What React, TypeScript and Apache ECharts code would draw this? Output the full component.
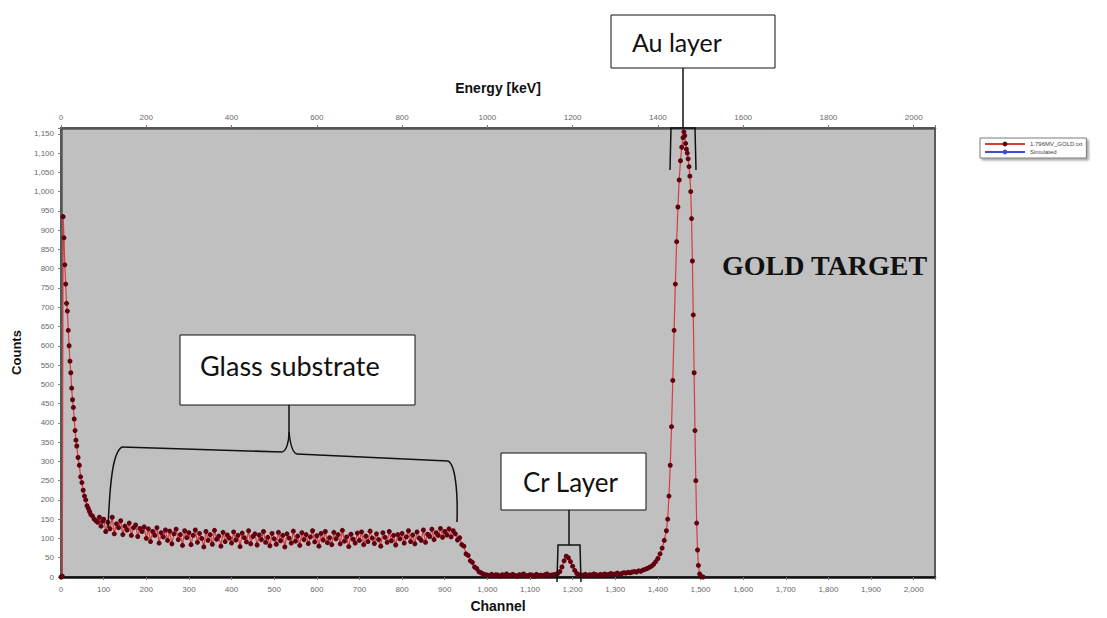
import React, { useEffect, useRef } from "react";
import * as echarts from "echarts";

// Measured spectrum: [channel, counts]
const edgePairs: number[][] = [
  [0, 0], [3, 2], [5, 935], [7, 880], [9, 810], [11, 760], [13, 710], [15, 690],
  [17, 640], [19, 600], [21, 560], [23, 530], [25, 490], [27, 460], [29, 440],
  [31, 410], [33, 380], [35, 355], [37, 340], [40, 310], [43, 290], [46, 260],
  [49, 245], [52, 225], [55, 210], [58, 200], [61, 185], [64, 178], [67, 170],
  [70, 162], [74, 158], [78, 150], [82, 146], [86, 142], [90, 155], [94, 132], [98, 145],
];

// Glass substrate plateau, channels 100..1000 every 5 channels
const glassStart = 100;
const glassStep = 5;
const glassCounts: number[] = [
  150, 118, 142, 125, 155, 112, 138, 128, 146, 110, 132, 122, 140, 108, 128, 135, 105, 126, 118, 130,
  100, 125, 92, 118, 108, 128, 88, 115, 104, 122, 95, 119, 86, 112, 124, 97, 110, 82, 120, 102,
  115, 84, 108, 122, 90, 113, 100, 78, 118, 95, 110, 85, 121, 98, 106, 80, 116, 92, 109, 101,
  88, 117, 96, 108, 79, 114, 102, 91, 120, 86, 105, 112, 83, 109, 97, 118, 90, 103, 81, 113,
  99, 85, 116, 94, 108, 78, 112, 101, 88, 119, 93, 106, 82, 115, 97, 110, 87, 104, 120, 91,
  107, 80, 113, 96, 118, 89, 102, 84, 116, 99, 110, 86, 121, 93, 104, 79, 111, 98, 88, 114,
  95, 117, 84, 106, 92, 119, 101, 87, 112, 97, 80, 115, 103, 90, 118, 94, 108, 83, 110, 99,
  113, 88, 104, 120, 92, 109, 86, 117, 101, 95, 122, 90, 111, 105, 124, 97, 115, 108, 126, 103,
  118, 109, 125, 104, 120, 112, 96, 102, 84, 80, 60, 56, 42, 38, 26, 22, 14, 11, 8, 6,
  5,
];

// Gap between substrate and Cr, channels 1005..1145 every 5
const gapStart = 1005;
const gapStep = 5;
const gapCounts: number[] = [
  4, 7, 3, 6, 5, 2, 6, 4, 8, 3, 5, 7, 4, 2, 6, 5, 8, 3, 4, 6, 5, 2, 7, 4, 5, 3, 6, 8, 4,
];

// Cr layer peak
const crPairs: number[][] = [
  [1150, 5], [1155, 6], [1160, 7], [1165, 9], [1170, 14], [1175, 26], [1180, 42],
  [1185, 54], [1190, 50], [1195, 40], [1200, 28], [1205, 17], [1210, 9], [1215, 6], [1220, 5],
];

// Region before the Au edge, channels 1225..1420 every 5
const preAuStart = 1225;
const preAuStep = 5;
const preAuCounts: number[] = [
  5, 7, 4, 6, 5, 8, 6, 4, 7, 5, 8, 6, 7, 9, 6, 8, 10, 7, 9, 11,
  10, 12, 11, 13, 14, 13, 16, 15, 18, 20, 22, 25, 28, 33, 40, 48, 60, 75, 95, 120,
];

// Au layer peak
const auPairs: number[][] = [
  [1423, 150], [1426, 210], [1429, 290], [1432, 390], [1435, 510], [1438, 640],
  [1441, 760], [1444, 870], [1447, 960], [1450, 1030], [1453, 1080], [1456, 1115],
  [1459, 1140], [1461, 1155], [1463, 1145], [1465, 1125], [1467, 1110], [1469, 1100],
  [1471, 1085], [1473, 1065], [1475, 1040], [1477, 1000], [1479, 930], [1481, 820],
  [1483, 680], [1485, 530], [1487, 380], [1489, 250], [1491, 140], [1493, 70],
  [1495, 30], [1498, 8], [1502, 1], [1506, 0],
];

const seriesNames = ["1.796MV_GOLD.txt", "Simulated"];

const fromSteps = (start: number, step: number, counts: number[]) =>
  counts.map((c, i) => [start + i * step, c]);

const measured: number[][] = [
  ...edgePairs,
  ...fromSteps(glassStart, glassStep, glassCounts),
  ...fromSteps(gapStart, gapStep, gapCounts),
  ...crPairs,
  ...fromSteps(preAuStart, preAuStep, preAuCounts),
  ...auPairs,
];

const withComma = (v: number) =>
  String(v).replace(/\B(?=(\d{3})+(?!\d))/g, ",");

const tickFont = { fontSize: 8, color: "#6a6a6a", fontFamily: "Liberation Sans" };
const titleFont = {
  fontSize: 13,
  fontWeight: "bold" as const,
  color: "#111",
  fontFamily: "Liberation Sans",
};

const boxStyle = { fill: "#ffffff", stroke: "#111", lineWidth: 1 };
const lineStyle = { stroke: "#111", lineWidth: 1.5, fill: "none" };
const noteFont = "Lato";

export default function App() {
  const ref = useRef<HTMLDivElement>(null);

  useEffect(() => {
    if (!ref.current) return;
    const chart = echarts.init(ref.current, undefined, { renderer: "svg" });
    chart.setOption({
      animation: false,
      backgroundColor: "#ffffff",
      grid: {
        left: 61,
        right: 172,
        top: 128,
        bottom: 38,
        show: true,
        backgroundColor: "#c0c0c0",
        borderColor: "#5a5a5a",
        borderWidth: 2,
      },
      legend: {
        orient: "vertical",
        left: 980,
        top: 138,
        width: 112,
        itemWidth: 40,
        itemHeight: 6,
        itemGap: 2,
        padding: [3, 4, 3, 4],
        backgroundColor: "#ffffff",
        borderColor: "#7a7a7a",
        borderWidth: 1,
        shadowColor: "rgba(0,0,0,0.35)",
        shadowOffsetX: 2,
        shadowOffsetY: 2,
        shadowBlur: 2,
        textStyle: { fontSize: 6, color: "#444", fontFamily: "Liberation Sans" },
        data: seriesNames,
      },
      xAxis: [
        {
          type: "value",
          position: "bottom",
          min: 0,
          max: 2050,
          interval: 100,
          name: "Channel",
          nameLocation: "middle",
          nameGap: 22,
          nameTextStyle: { ...titleFont, fontSize: 14 },
          axisLine: { show: true, lineStyle: { color: "#111", width: 2.5 } },
          axisTick: { show: true, length: 3, lineStyle: { color: "#777" } },
          axisLabel: {
            ...tickFont,
            margin: 8,
            formatter: (v: number) => (v % 100 === 0 ? withComma(v) : ""),
          },
          splitLine: { show: false },
        },
        {
          type: "value",
          position: "top",
          min: 0,
          max: 2050,
          interval: 200,
          name: "Energy [keV]",
          nameLocation: "middle",
          nameGap: 33,
          nameTextStyle: { ...titleFont, fontSize: 14 },
          axisLine: { show: true, lineStyle: { color: "#555", width: 2.5 } },
          axisTick: { show: true, length: 3, lineStyle: { color: "#777" } },
          axisLabel: {
            ...tickFont,
            margin: 7,
            formatter: (v: number) => (v % 200 === 0 ? String(v) : ""),
          },
          splitLine: { show: false },
        },
      ],
      yAxis: {
        type: "value",
        min: 0,
        max: 1165,
        interval: 50,
        name: "Counts",
        nameLocation: "middle",
        nameGap: 38,
        nameTextStyle: titleFont,
        axisLine: { show: true, lineStyle: { color: "#555", width: 2.5 } },
        axisTick: { show: true, length: 3, lineStyle: { color: "#777" } },
        axisLabel: {
          ...tickFont,
          margin: 7,
          formatter: (v: number) => (v % 50 === 0 ? withComma(v) : ""),
        },
        splitLine: { show: false },
      },
      series: [
        {
          name: seriesNames[0],
          type: "line",
          xAxisIndex: 0,
          data: measured,
          symbol: "circle",
          symbolSize: 5,
          lineStyle: { color: "#d83c3c", width: 1.2 },
          itemStyle: { color: "#620010" },
          z: 3,
        },
        {
          name: seriesNames[1],
          type: "line",
          xAxisIndex: 0,
          data: [],
          symbol: "none",
          lineStyle: { color: "#3a4fd0", width: 1.5 },
          itemStyle: { color: "#3a4fd0" },
        },
      ],
      graphic: [
        // Au layer callout
        { type: "rect", shape: { x: 611, y: 15, width: 164, height: 53 }, style: boxStyle, z: 10 },
        {
          type: "text",
          x: 632,
          y: 42,
          style: {
            text: "Au layer",
            font: `25px ${noteFont}`,
            fill: "#111",
            verticalAlign: "middle",
          },
          z: 11,
        },
        { type: "line", shape: { x1: 683, y1: 68, x2: 683, y2: 128 }, style: lineStyle, z: 10 },
        {
          type: "polyline",
          shape: { points: [[670, 170], [671, 128], [695, 128], [696, 170]] },
          style: lineStyle,
          z: 10,
        },
        // Gold target caption
        {
          type: "text",
          x: 722,
          y: 265,
          style: {
            text: "GOLD TARGET",
            font: "bold 28px 'Liberation Serif'",
            fill: "#111",
            verticalAlign: "middle",
          },
          z: 11,
        },
        // Glass substrate callout
        { type: "rect", shape: { x: 180, y: 335, width: 235, height: 70 }, style: boxStyle, z: 10 },
        {
          type: "text",
          x: 200,
          y: 365,
          style: {
            text: "Glass substrate",
            font: `27px ${noteFont}`,
            fill: "#111",
            verticalAlign: "middle",
          },
          z: 11,
        },
        { type: "line", shape: { x1: 289, y1: 405, x2: 289, y2: 432 }, style: lineStyle, z: 10 },
        {
          type: "bezierCurve",
          shape: { x1: 108, y1: 528, cpx1: 110, cpy1: 480, cpx2: 113, cpy2: 452, x2: 122, y2: 447 },
          style: lineStyle,
          z: 10,
        },
        { type: "line", shape: { x1: 122, y1: 447, x2: 282, y2: 452 }, style: lineStyle, z: 10 },
        {
          type: "bezierCurve",
          shape: { x1: 282, y1: 452, cpx1: 287, cpy1: 451, cpx2: 289, cpy2: 440, x2: 289, y2: 432 },
          style: lineStyle,
          z: 10,
        },
        {
          type: "bezierCurve",
          shape: { x1: 289, y1: 432, cpx1: 290, cpy1: 442, cpx2: 292, cpy2: 453, x2: 297, y2: 454 },
          style: lineStyle,
          z: 10,
        },
        { type: "line", shape: { x1: 297, y1: 454, x2: 448, y2: 461 }, style: lineStyle, z: 10 },
        {
          type: "bezierCurve",
          shape: { x1: 448, y1: 461, cpx1: 455, cpy1: 464, cpx2: 458, cpy2: 490, x2: 457, y2: 522 },
          style: lineStyle,
          z: 10,
        },
        // Cr layer callout
        { type: "rect", shape: { x: 501, y: 453, width: 145, height: 57 }, style: boxStyle, z: 10 },
        {
          type: "text",
          x: 523,
          y: 482,
          style: {
            text: "Cr Layer",
            font: `26px ${noteFont}`,
            fill: "#111",
            verticalAlign: "middle",
          },
          z: 11,
        },
        { type: "line", shape: { x1: 569, y1: 510, x2: 569, y2: 545 }, style: lineStyle, z: 10 },
        {
          type: "polyline",
          shape: { points: [[557, 582], [558, 545], [580, 545], [581, 582]] },
          style: lineStyle,
          z: 10,
        },
      ],
    });
    return () => chart.dispose();
  }, []);

  return (
    <div
      ref={ref}
      style={{ position: "fixed", left: 0, top: 0, width: 1107, height: 618 }}
    />
  );
}
